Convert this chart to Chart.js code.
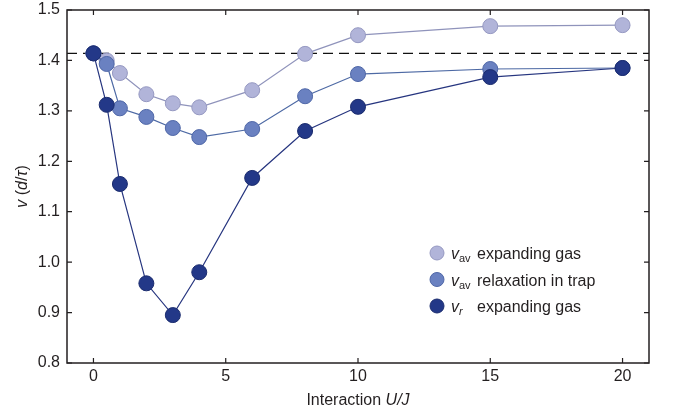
<!DOCTYPE html>
<html>
<head>
<meta charset="utf-8">
<script src="https://cdn.jsdelivr.net/npm/chart.js@4.4.1/dist/chart.umd.min.js"></script>
<style>
  html, body { margin: 0; padding: 0; background: #fff; }
  #wrap { width: 678px; height: 416px; position: relative; }
</style>
</head>
<body>
<div id="wrap"><canvas id="chart"></canvas></div>
<script>
// interaction strength U/J
const interaction = [0, 0.5, 1, 2, 3, 4, 6, 8, 10, 15, 20];
// velocities in units of d/tau
const vavExpanding = [1.414, 1.400, 1.375, 1.333, 1.315, 1.307, 1.341, 1.413, 1.450, 1.468, 1.470];
const vavTrap      = [1.414, 1.393, 1.305, 1.288, 1.266, 1.248, 1.264, 1.329, 1.373, 1.383, 1.385];
const vrExpanding  = [1.414, 1.312, 1.155, 0.958, 0.895, 0.980, 1.167, 1.260, 1.308, 1.367, 1.385];
const refLevel = 1.414; // sqrt(2)

const xTicks = [0, 5, 10, 15, 20];
const yTicks = [0.8, 0.9, 1.0, 1.1, 1.2, 1.3, 1.4, 1.5];
const xRange = [-1, 21];
const yRange = [0.8, 1.5];

const FONT = '"Liberation Sans", Arial, Helvetica, sans-serif';
const TXT = '#231f20';

const pts = (ys) => interaction.map((x, i) => ({ x: x, y: ys[i] }));

function series(data, fill, edge, line, order) {
    return {
        data: data,
        showLine: true,
        borderColor: line,
        borderWidth: 1.2,
        pointRadius: 7.5,
        pointHoverRadius: 7.5,
        pointBackgroundColor: fill,
        pointBorderColor: edge,
        pointBorderWidth: 1,
        order: order
    };
}

const legendItems = [
    { fill: '#b1b4d9', edge: '#9598c1', sub: 'av', subItalic: false, text: 'expanding gas' },
    { fill: '#6a81c1', edge: '#4f67a7', sub: 'av', subItalic: false, text: 'relaxation in trap' },
    { fill: '#233888', edge: '#1b2c6e', sub: 'r', subItalic: true, text: 'expanding gas' }
];

// draw a run of [text, italic, size, dy] pieces from x, returns end x
function drawRuns(ctx, runs, x, y, size) {
    runs.forEach(r => {
        ctx.font = (r[1] ? 'italic ' : '') + (r[2] || size) + 'px ' + FONT;
        ctx.fillText(r[0], x, y + (r[3] || 0));
        x += ctx.measureText(r[0]).width;
    });
    return x;
}

const decorPlugin = {
    id: 'decor',
    afterDatasetsDraw(chart) {
        const ctx = chart.ctx;
        const a = chart.chartArea;
        const xs = chart.scales.x, ys = chart.scales.y;
        ctx.save();
        // frame
        ctx.strokeStyle = '#231f20';
        ctx.lineWidth = 1.5;
        ctx.strokeRect(a.left, a.top, a.right - a.left, a.bottom - a.top);
        // inward ticks
        ctx.lineWidth = 1.2;
        ctx.beginPath();
        xTicks.forEach(v => {
            const px = xs.getPixelForValue(v);
            ctx.moveTo(px, a.bottom); ctx.lineTo(px, a.bottom - 5);
            ctx.moveTo(px, a.top); ctx.lineTo(px, a.top + 5);
        });
        yTicks.forEach(v => {
            const py = ys.getPixelForValue(v);
            ctx.moveTo(a.left, py); ctx.lineTo(a.left + 5, py);
            ctx.moveTo(a.right, py); ctx.lineTo(a.right - 5, py);
        });
        ctx.stroke();

        // legend
        ctx.fillStyle = TXT;
        ctx.textBaseline = 'alphabetic';
        ctx.textAlign = 'left';
        const lx = a.left + 370, ly = 253;
        legendItems.forEach((it, i) => {
            const cy = ly + i * 26.5;
            ctx.beginPath();
            ctx.arc(lx, cy, 7, 0, Math.PI * 2);
            ctx.fillStyle = it.fill;
            ctx.fill();
            ctx.strokeStyle = it.edge;
            ctx.lineWidth = 1;
            ctx.stroke();
            ctx.fillStyle = TXT;
            const base = cy + 6;
            drawRuns(ctx, [['v', true, 16], [it.sub, it.subItalic, 11, 3]], lx + 14, base, 16);
            drawRuns(ctx, [[it.text, false, 16]], lx + 40, base, 16);
        });

        // x axis title
        const t1 = 'Interaction ';
        ctx.font = 'italic 16px ' + FONT;
        const w2 = ctx.measureText('U/J').width;
        ctx.font = '16px ' + FONT;
        const w1 = ctx.measureText(t1).width;
        const cx = (a.left + a.right) / 2;
        drawRuns(ctx, [[t1, false, 16], ['U/J', true, 16]], cx - (w1 + w2) / 2, 405, 16);

        // y axis title
        const runs = [['v', true, 16], [' (', false, 16], ['d', true, 16], ['/', false, 16], ['\u03C4', true, 16], [')', false, 16]];
        let tw = 0;
        runs.forEach(r => { ctx.font = (r[1] ? 'italic ' : '') + '16px ' + FONT; tw += ctx.measureText(r[0]).width; });
        ctx.translate(27, (a.top + a.bottom) / 2);
        ctx.rotate(-Math.PI / 2);
        drawRuns(ctx, runs, -tw / 2, 0, 16);
        ctx.restore();
    }
};

new Chart(document.getElementById('chart'), {
    type: 'scatter',
    data: {
        datasets: [
            series(pts(vrExpanding), '#233888', '#1b2c6e', '#26357f', 1),
            series(pts(vavTrap), '#6a81c1', '#4f67a7', '#4d69a4', 2),
            series(pts(vavExpanding), '#b1b4d9', '#9598c1', '#8f93bb', 3),
            {
                data: [{ x: xRange[0], y: refLevel }, { x: xRange[1], y: refLevel }],
                showLine: true,
                borderColor: '#111',
                borderWidth: 1.3,
                borderDash: [10, 6],
                pointRadius: 0,
                order: 10
            }
        ]
    },
    options: {
        responsive: true,
        maintainAspectRatio: false,
        animation: false,
        layout: { padding: { top: 10, right: 29, left: 0, bottom: 0 } },
        plugins: { legend: { display: false }, tooltip: { enabled: false } },
        scales: {
            x: {
                type: 'linear',
                min: xRange[0],
                max: xRange[1],
                grid: { display: false, drawTicks: false },
                border: { display: false },
                afterBuildTicks: s => { s.ticks = xTicks.map(v => ({ value: v })); },
                afterFit: s => { s.height = 53; s.paddingLeft = 0; s.paddingRight = 0; },
                ticks: { color: TXT, padding: 4, font: { family: FONT, size: 16 } }
            },
            y: {
                min: yRange[0],
                max: yRange[1],
                grid: { display: false, drawTicks: false },
                border: { display: false },
                afterBuildTicks: s => { s.ticks = yTicks.map(v => ({ value: v })); },
                afterFit: s => { s.width = 67; s.paddingTop = 0; s.paddingBottom = 0; },
                ticks: {
                    color: TXT, padding: 7, font: { family: FONT, size: 16 },
                    callback: v => v.toFixed(1)
                }
            }
        }
    },
    plugins: [decorPlugin]
});
</script>
</body>
</html>
